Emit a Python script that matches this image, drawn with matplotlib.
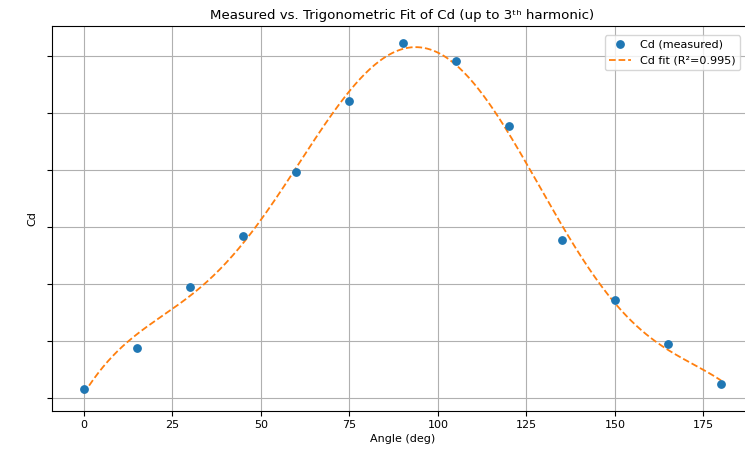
import numpy as np
import matplotlib
matplotlib.use("Agg")
from matplotlib import pyplot as plt

# measured drag coefficient vs angle (y values, arbitrary units)
angle = [0, 15, 30, 45, 60, 75, 90, 105, 120, 135, 150, 165, 180]
cd = [0.16, 0.88, 1.95, 2.84, 3.96, 5.21, 6.23, 5.91, 4.77, 2.77, 1.72, 0.95, 0.25]
n_harm = 3

# trig least-squares fit up to 3rd harmonic
th = np.radians(angle)
cols = [np.ones_like(th)]
for k in range(1, n_harm + 1):
    cols += [np.cos(k * th), np.sin(k * th)]
A = np.column_stack(cols)
coef, *_ = np.linalg.lstsq(A, cd, rcond=None)

xf = np.linspace(0, 180, 400)
tf = np.radians(xf)
cf = [np.ones_like(tf)]
for k in range(1, n_harm + 1):
    cf += [np.cos(k * tf), np.sin(k * tf)]
yf = np.column_stack(cf) @ coef

fig = plt.figure(figsize=(7.45, 4.5), dpi=100)
ax = fig.add_axes([52 / 745, 39 / 450, 701 / 745, 385 / 450])
ax.plot(angle, cd, "o", color="C0", markersize=5.3, label="Cd (measured)", zorder=3)
ax.plot(xf, yf, "--", color="C1", linewidth=1.3, label="Cd fit (R\u00b2=0.995)")
ax.set_xlim(-9, 189)
ax.set_ylim(-0.23, 6.53)
ax.set_yticks(np.arange(0, 7))
ax.set_yticklabels([])
ax.set_xticks([0, 25, 50, 75, 100, 125, 150, 175])
ax.tick_params(labelsize=8, pad=3)
ax.grid(True)
ax.set_xlabel("Angle (deg)", fontsize=8, labelpad=3)
ax.set_ylabel("Cd", fontsize=8)
ax.set_title("Measured vs. Trigonometric Fit of Cd (up to 3\u1d57\u02b0 harmonic)", fontsize=9.6, pad=5)
ax.legend(loc="upper right", fontsize=8, bbox_to_anchor=(0.99, 0.99))
fig.savefig("out.png", dpi=100)
